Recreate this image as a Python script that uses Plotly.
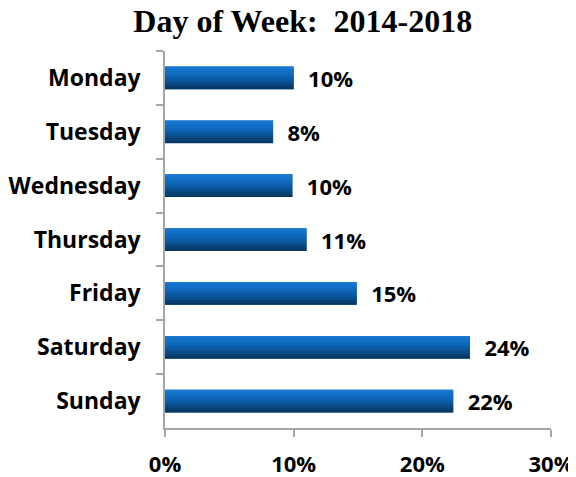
import plotly.graph_objects as go

days = ["Monday", "Tuesday", "Wednesday", "Thursday", "Friday", "Saturday", "Sunday"]
pct = [10.0, 8.4, 9.9, 11.0, 14.9, 23.7, 22.4]
x_ticks = [0, 10, 20, 30]
x_tick_labels = ["0%", "10%", "20%", "30%"]

# gradient strips (top -> bottom)
strip_colors = ["#1878D2", "#1473CB", "#116DC2", "#0F66B7", "#0D5EAA",
                "#0B5599", "#094B87", "#074173", "#053863"]

bar_w = 0.42
fig = go.Figure()
fig.add_trace(go.Bar(
    y=days, x=pct, orientation="h", width=bar_w,
    marker=dict(color="#0D5EAA", line=dict(width=0)),
    texttemplate="\u00a0\u00a0%{x:.0f}%", textposition="outside",
    constraintext="none",
    textfont=dict(family="Open Sans", size=22, color="black", weight="bold"),
    cliponaxis=False, hoverinfo="skip", showlegend=False,
))
n = len(strip_colors)
sw = bar_w / n
for i, c in enumerate(strip_colors):
    off = -bar_w / 2 + i * sw
    fig.add_trace(go.Bar(
        y=days, x=pct, orientation="h", width=sw * 1.05, offset=off,
        marker=dict(color=c, line=dict(width=0)),
        hoverinfo="skip", showlegend=False,
    ))

fig.update_layout(
    width=568, height=469,
    margin=dict(l=157, r=25, t=43, b=49),
    paper_bgcolor="white", plot_bgcolor="white",
    barmode="overlay",
    title=dict(text="Day of Week:\u00a0 2014-2018", x=0.519, xanchor="center",
               y=0.972, yanchor="middle",
               font=dict(family="Liberation Serif", size=32, color="black", weight="bold")),
    xaxis=dict(range=[0, 30], tickvals=x_ticks, ticktext=x_tick_labels,
               automargin=False,
               showgrid=False, zeroline=False, showline=True, linecolor="#A6A6A6",
               linewidth=1.5, ticks="outside", ticklen=7, tickcolor="#A6A6A6",
               tickwidth=1.5, ticklabelstandoff=9,
               tickfont=dict(family="Open Sans", size=22, color="black", weight="bold")),
    yaxis=dict(autorange="reversed", automargin=False,
               showgrid=False, zeroline=False, showline=True,
               linecolor="#A6A6A6", linewidth=1.5, ticks="outside", ticklen=7,
               tickcolor="#A6A6A6", tickwidth=1.5, tickson="boundaries",
               ticklabelstandoff=18,
               tickfont=dict(family="Open Sans", size=23, color="black", weight="bold")),
)
fig.write_html("out.html")
